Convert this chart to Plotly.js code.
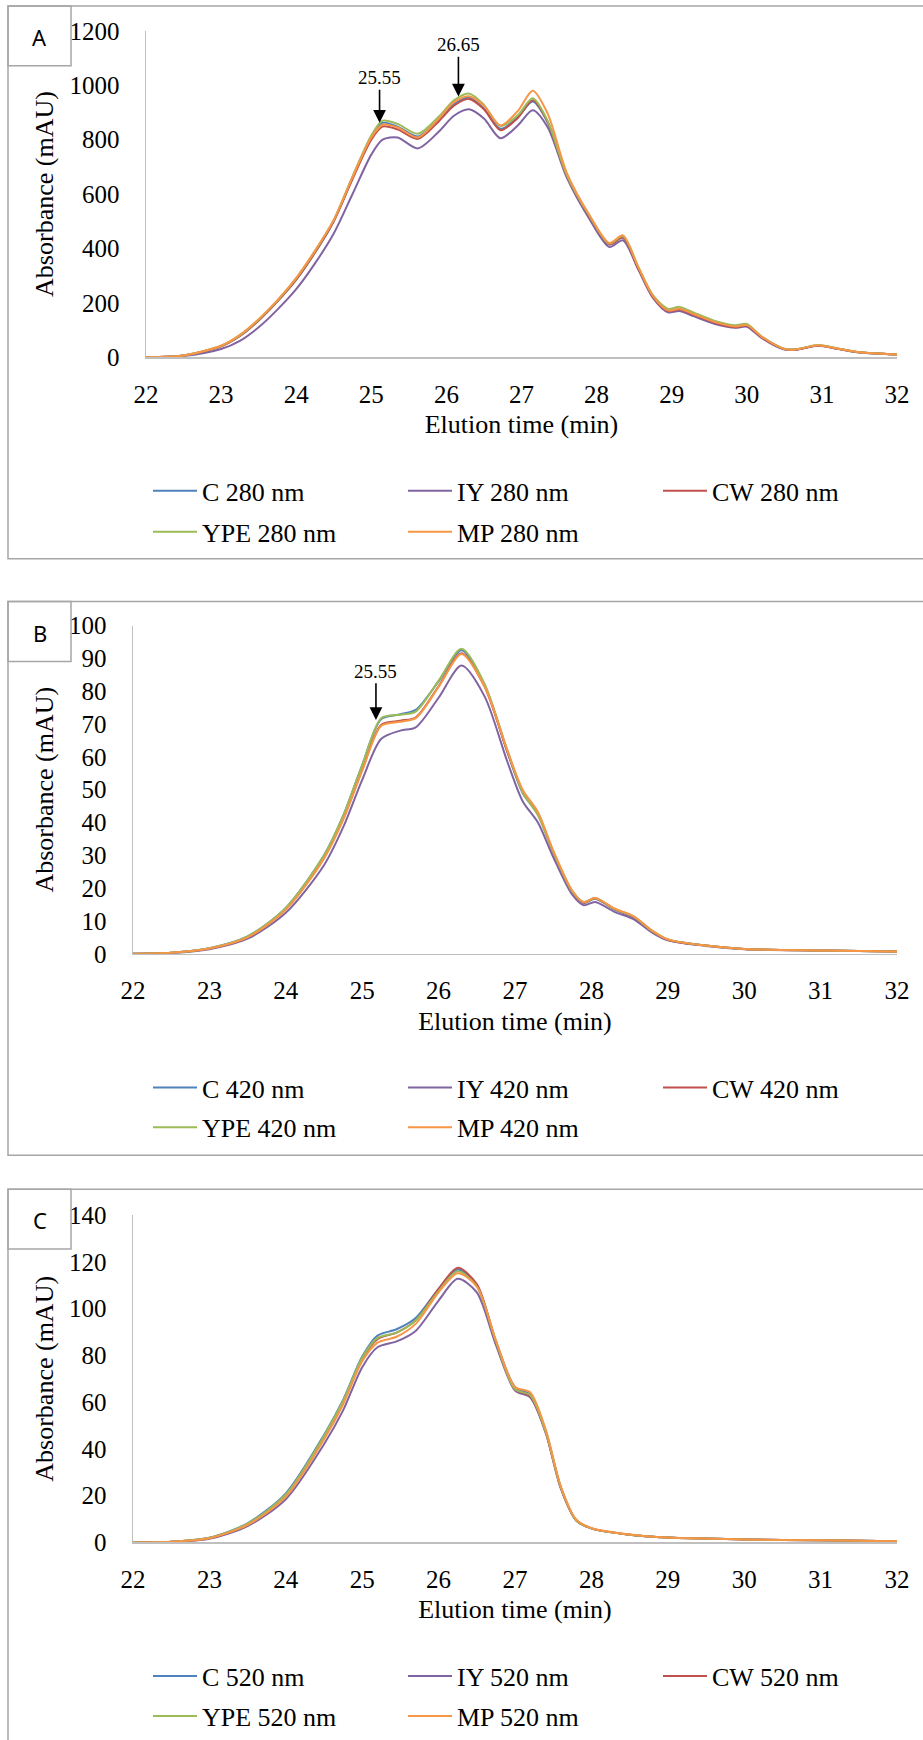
<!DOCTYPE html>
<html><head><meta charset="utf-8">
<script src="https://cdn.plot.ly/plotly-3.0.1.min.js"></script>
<style>html,body{margin:0;padding:0;background:#fff;} #chart{width:923px;height:1740px;}</style>
</head><body><div id="chart"></div>
<script>
// ---------- DATA ----------
const seriesNames = ['C', 'IY', 'CW', 'YPE', 'MP'];
const wavelengths = ['280 nm', '420 nm', '520 nm'];
const panelLabels = ['A', 'B', 'C'];
const xTitle = 'Elution time (min)';
const yTitle = 'Absorbance (mAU)';
const xTicks = [22, 23, 24, 25, 26, 27, 28, 29, 30, 31, 32];
const yTicksA = [0, 200, 400, 600, 800, 1000, 1200];
const yTicksB = [0, 10, 20, 30, 40, 50, 60, 70, 80, 90, 100];
const yTicksC = [0, 20, 40, 60, 80, 100, 120, 140];

// Panel A: 280 nm
const timeA = [22, 22.5, 23, 23.25, 23.5, 23.75, 24, 24.25, 24.5, 24.75, 25, 25.15, 25.35, 25.62, 25.9, 26.1, 26.3, 26.5, 26.72, 26.95, 27.15, 27.35, 27.6, 27.9, 28.17, 28.35, 28.55, 28.75, 28.95, 29.1, 29.3, 29.6, 29.85, 30.0, 30.2, 30.5, 30.65, 30.95, 31.2, 31.5, 32];
const A_C   = [0, 6, 40, 78, 135, 205, 285, 385, 500, 660, 810, 862, 848, 812, 875, 930, 955, 915, 840, 882, 940, 862, 670, 520, 415, 440, 330, 225, 172, 178, 158, 128, 113, 118, 75, 30, 28, 43, 32, 18, 10];
const A_IY  = [0, 4, 30, 60, 110, 175, 250, 345, 455, 600, 745, 800, 808, 768, 830, 888, 912, 878, 805, 852, 908, 845, 662, 510, 405, 430, 325, 218, 165, 170, 150, 120, 108, 112, 70, 28, 27, 42, 31, 17, 10];
const A_CW  = [0, 6, 40, 78, 135, 205, 285, 385, 500, 655, 800, 848, 838, 803, 868, 925, 950, 912, 835, 880, 945, 865, 670, 520, 415, 440, 330, 222, 170, 175, 155, 125, 110, 116, 73, 30, 28, 43, 32, 18, 10];
const A_YPE = [0, 6, 42, 80, 138, 208, 290, 390, 505, 665, 815, 870, 858, 822, 885, 945, 970, 928, 850, 890, 952, 868, 672, 522, 418, 445, 335, 228, 178, 185, 163, 131, 117, 122, 76, 31, 29, 45, 33, 18, 10];
const A_MP  = [0, 6, 42, 82, 140, 210, 292, 392, 505, 662, 808, 855, 845, 808, 878, 938, 960, 925, 852, 905, 980, 895, 680, 525, 420, 448, 335, 225, 172, 178, 158, 127, 113, 118, 75, 30, 28, 44, 32, 18, 10];

// Panel B: 420 nm
const timeB = [22, 22.5, 23, 23.5, 24, 24.5, 24.75, 25, 25.25, 25.5, 25.7, 26, 26.3, 26.6, 26.9, 27.1, 27.3, 27.5, 27.75, 27.9, 28.05, 28.3, 28.55, 28.8, 29, 29.5, 30, 31, 32];
const B_C   = [0, 0.3, 1.7, 5.3, 14, 30, 42, 57.5, 71.5, 73, 74.3, 83, 92.5, 82, 61.5, 49, 42.5, 31, 19, 15.5, 16.8, 13.5, 11.2, 6.8, 4.3, 2.5, 1.5, 1.0, 0.7];
const B_IY  = [0, 0.2, 1.4, 4.6, 12.5, 27, 38.5, 53, 65.5, 68, 69, 78, 87.8, 78.5, 58.5, 46.5, 40, 29.5, 18, 14.8, 15.8, 12.8, 10.6, 6.4, 4.1, 2.4, 1.4, 1.0, 0.7];
const B_CW  = [0, 0.3, 1.6, 5.1, 13.6, 29.3, 41, 56, 69.8, 71, 72, 81.5, 91.6, 81.5, 61.5, 49.5, 42.8, 31, 19, 15.6, 16.9, 13.6, 11.3, 6.9, 4.3, 2.5, 1.5, 1.0, 0.7];
const B_YPE = [0, 0.3, 1.7, 5.3, 14, 30, 42, 57.5, 71.8, 72.8, 73.8, 83.2, 92.9, 82.3, 62, 49.2, 42.2, 31, 19, 15.8, 17.0, 13.7, 11.4, 6.9, 4.4, 2.5, 1.5, 1.0, 0.7];
const B_MP  = [0, 0.3, 1.6, 5.0, 13.4, 29, 40.8, 55.8, 69.5, 70.7, 71.8, 81.3, 91.3, 81.5, 62, 50, 43.2, 31.5, 19.2, 15.7, 17.0, 13.8, 11.5, 7, 4.4, 2.5, 1.5, 1.0, 0.7];

// Panel C: 520 nm
const timeC = [22, 22.5, 23, 23.5, 24, 24.5, 24.75, 25, 25.2, 25.45, 25.7, 26, 26.25, 26.5, 26.75, 27, 27.2, 27.4, 27.6, 27.8, 28, 28.5, 29, 30, 31, 32];
const C_C   = [0, 0.3, 2, 8.2, 21, 46, 61, 79.5, 88.5, 91.2, 96, 108.5, 116.8, 110, 86, 66.5, 63.2, 48, 23.5, 9.5, 6, 3.3, 2.1, 1.3, 0.9, 0.5];
const C_IY  = [0, 0.2, 1.6, 7, 18.5, 42, 56.5, 75, 83.5, 86, 90.5, 103.5, 112.8, 107, 84.5, 65, 62, 47, 23, 9.5, 6, 3.3, 2.1, 1.3, 0.9, 0.5];
const C_CW  = [0, 0.3, 1.9, 7.8, 20.2, 45, 60, 78.5, 87, 89.8, 95, 108.5, 117.5, 110.5, 86, 65.5, 62.5, 47.5, 23.5, 9.5, 6, 3.3, 2.1, 1.3, 0.9, 0.5];
const C_YPE = [0, 0.3, 2, 8, 20.5, 45.5, 60.5, 79, 87.5, 89.8, 95, 107.5, 116, 109.5, 86, 65.5, 63, 47.5, 23.5, 9.5, 6, 3.3, 2.1, 1.3, 0.9, 0.5];
const C_MP  = [0, 0.3, 1.8, 7.5, 19.5, 44, 59, 77.5, 85.5, 88, 93.5, 107, 115.2, 109.5, 86.5, 66.5, 64.2, 48.5, 24, 9.8, 6.2, 3.4, 2.1, 1.3, 0.9, 0.5];

// Peak arrows (time, absorbance at arrow tip, label)
const arrowTimesA = [25.11, 26.16];
const arrowValuesA = [862, 959];
const arrowTextsA = ['25.55', '26.65'];
const arrowTimesB = [25.18];
const arrowValuesB = [71.2];
const arrowTextsB = ['25.55'];

// ---------- STYLE / LAYOUT ----------
const colors = ['#4F81BD', '#8064A2', '#C0504D', '#9BBB59', '#F79646'];
const W = 923, H = 1740;
const serif = 'Liberation Serif';
const px2x = p => p / W;
const px2y = p => 1 - p / H;

const panels = [
  {time: timeA, series: [A_C, A_IY, A_CW, A_YPE, A_MP], ticks: yTicksA, left: 146, top: 31, zero: 358,
   box: [6, 560], legRows: [492, 533], arrows: [arrowTimesA, arrowValuesA, arrowTextsA], arrowLabelY: [78, 45]},
  {time: timeB, series: [B_C, B_IY, B_CW, B_YPE, B_MP], ticks: yTicksB, left: 133, top: 627, zero: 956,
   box: [603, 1158], legRows: [1090, 1130], arrows: [arrowTimesB, arrowValuesB, arrowTextsB], arrowLabelY: [673]},
  {time: timeC, series: [C_C, C_IY, C_CW, C_YPE, C_MP], ticks: yTicksC, left: 133, top: 1218, zero: 1546,
   box: [1192, 1800], legRows: [1680, 1720], arrows: [[], [], []], arrowLabelY: []}
];

const traces = [];
const layout = {
  width: W, height: H, autosize: false,
  margin: {l: 0, r: 0, t: 0, b: 0, pad: 0},
  paper_bgcolor: '#ffffff', plot_bgcolor: 'rgba(0,0,0,0)',
  showlegend: true, hovermode: false,
  font: {family: serif, color: '#000'},
  shapes: [], annotations: []
};

panels.forEach((p, i) => {
  const n = i === 0 ? '' : String(i + 1);
  const xa = 'x' + n, ya = 'y' + n;
  const legA = i === 0 ? 'legend' : 'legend' + (2 * i + 1);
  const legB = 'legend' + (2 * i + 2);
  p.series.forEach((vals, k) => {
    traces.push({
      type: 'scatter', mode: 'lines', x: p.time, y: vals,
      name: seriesNames[k] + ' ' + wavelengths[i],
      xaxis: xa, yaxis: ya,
      legend: k < 3 ? legA : legB,
      line: {color: colors[k], width: 2, shape: 'spline', smoothing: 0.8}
    });
  });
  const yr = [p.ticks[0], p.ticks[p.ticks.length - 1]];
  layout['xaxis' + n] = {
    domain: [px2x(p.left), px2x(897)], anchor: ya, range: [22, 32],
    tickvals: xTicks, ticktext: xTicks.map(String), ticks: '', showgrid: false, zeroline: false,
    showline: true, linecolor: '#bfbfbf', linewidth: 1.5,
    tickfont: {family: serif, size: 25, color: '#000'}, ticklabelstandoff: 14,
    title: {text: xTitle, font: {family: serif, size: 26, color: '#000'}, standoff: 8},
    automargin: false, fixedrange: true
  };
  layout['yaxis' + n] = {
    domain: [px2y(p.zero), px2y(p.top)], anchor: xa, range: yr,
    tickvals: p.ticks, ticktext: p.ticks.map(String), ticks: '', showgrid: false, zeroline: false,
    showline: true, linecolor: '#bfbfbf', linewidth: 1.5,
    tickfont: {family: serif, size: 25, color: '#000'}, ticklabelstandoff: 20,
    title: {text: yTitle, font: {family: serif, size: 26, color: '#000'}, standoff: 8},
    automargin: false, fixedrange: true
  };
  // panel frame and label box
  layout.shapes.push({type: 'rect', xref: 'paper', yref: 'paper', x0: px2x(8), x1: px2x(940),
    y0: px2y(p.box[1]), y1: px2y(p.box[0]), line: {color: '#a6a6a6', width: 1.5}, fillcolor: 'rgba(0,0,0,0)'});
  layout.shapes.push({type: 'rect', xref: 'paper', yref: 'paper', x0: px2x(8), x1: px2x(71),
    y0: px2y(p.box[0] + 60), y1: px2y(p.box[0]), line: {color: '#a6a6a6', width: 1.5}, fillcolor: 'rgba(0,0,0,0)'});
  layout.annotations.push({xref: 'paper', yref: 'paper', x: px2x(39.5), y: px2y(p.box[0] + 31),
    text: panelLabels[i], showarrow: false, xanchor: 'center', yanchor: 'middle',
    font: {family: 'Noto Sans', size: 22, color: '#000'}});
  // arrows
  const [at, av, atx] = p.arrows;
  const scale = (p.zero - p.top) / (yr[1] - yr[0]);
  at.forEach((t, j) => {
    const tipY = p.zero - av[j] * scale;
    layout.annotations.push({xref: xa, yref: ya, x: t, y: av[j], text: atx[j],
      showarrow: true, arrowhead: 2, arrowsize: 1.6, arrowwidth: 1.6, arrowcolor: '#000',
      ax: 0, ay: p.arrowLabelY[j] - tipY, standoff: 0,
      font: {family: serif, size: 19, color: '#000'}});
  });
  // legends (two rows)
  p.legRows.forEach((ry, r) => {
    const key = r === 0 ? legA : legB;
    layout[key] = {
      orientation: 'h', x: px2x(148), xanchor: 'left', y: px2y(ry), yanchor: 'middle',
      font: {family: serif, size: 26, color: '#000'}, bgcolor: 'rgba(0,0,0,0)', borderwidth: 0,
      itemwidth: 44, entrywidth: 196, entrywidthmode: 'pixels', traceorder: 'normal'
    };
  });
});

Plotly.newPlot('chart', traces, layout, {staticPlot: true, displayModeBar: false});
</script>
</body></html>
